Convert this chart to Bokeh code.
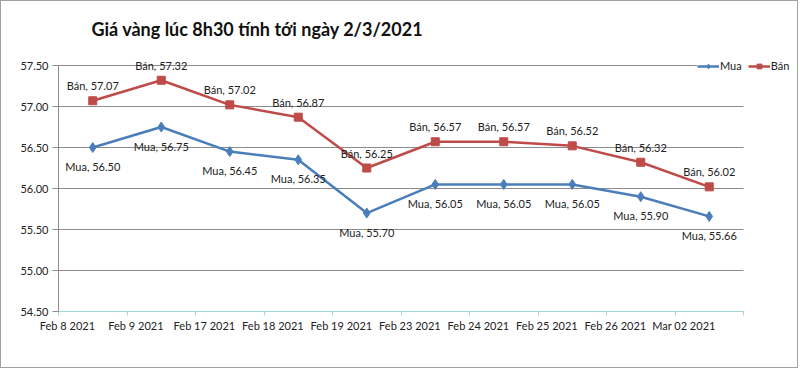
from bokeh.plotting import figure
from bokeh.models import (ColumnDataSource, LabelSet, Label, Legend, LegendItem,
                          FixedTicker, NumeralTickFormatter, Range1d)
from bokeh.core.properties import value
from bokeh.embed import file_html
from bokeh.resources import INLINE

categories = ["Feb 8 2021", "Feb 9 2021", "Feb 17 2021", "Feb 18 2021", "Feb 19 2021",
              "Feb 23 2021", "Feb 24 2021", "Feb 25 2021", "Feb 26 2021", "Mar 02 2021"]
mua = [56.50, 56.75, 56.45, 56.35, 55.70, 56.05, 56.05, 56.05, 55.90, 55.66]
ban = [57.07, 57.32, 57.02, 56.87, 56.25, 56.57, 56.57, 56.52, 56.32, 56.02]
y_ticks = [54.5, 55.0, 55.5, 56.0, 56.5, 57.0, 57.5]
title_text = "Giá vàng lúc 8h30 tính tới ngày 2/3/2021"

BLUE = "#4A7EBB"
RED = "#BE4B48"
FONT = "Lato"

W, H = 798, 368                    # + 1px border on each side = 800 x 370
LEFT, BOTTOM = 57, 58
PLOT_W, PLOT_H = 685, 246          # plotting area for the real axes
FRAME_W, FRAME_H = W - LEFT, H - BOTTOM
n = len(categories)
x_end = n * FRAME_W / PLOT_W
y_end = y_ticks[0] + (y_ticks[-1] - y_ticks[0]) * FRAME_H / PLOT_H
label_shift = 0.13                 # category labels sit a little right of the tick marks

xs = [i + 0.5 for i in range(n)]
src = ColumnDataSource(dict(
    x=xs, mua=mua, ban=ban,
    mua_lbl=[f"Mua, {v:.2f}" for v in mua],
    ban_lbl=[f"Bán, {v:.2f}" for v in ban],
))

p = figure(width=W, height=H, output_backend="svg", toolbar_location=None,
           x_range=Range1d(0, x_end), y_range=Range1d(y_ticks[0], y_end),
           min_border_left=LEFT, min_border_right=0, min_border_top=0, min_border_bottom=BOTTOM)
p.styles = {"border": "1px solid #a0a0a0"}
p.outline_line_color = None
p.background_fill_color = "white"
p.border_fill_color = "white"

# grid: horizontal lines only across the category span
p.xgrid.grid_line_color = None
p.ygrid.grid_line_color = None
p.segment(x0=[0] * len(y_ticks), x1=[n] * len(y_ticks), y0=y_ticks, y1=y_ticks,
          line_color="#8c8c8c", line_width=1)

# y axis
p.yaxis.ticker = FixedTicker(ticks=y_ticks)
p.yaxis.bounds = (y_ticks[0], y_ticks[-1])
p.yaxis.formatter = NumeralTickFormatter(format="0.00")
p.yaxis.axis_line_color = "#8c8c8c"
p.yaxis.major_tick_line_color = "#8c8c8c"
p.yaxis.major_tick_out = 6
p.yaxis.major_tick_in = 0
p.yaxis.minor_tick_line_color = None
p.yaxis.major_label_text_font = FONT
p.yaxis.major_label_text_font_size = "11px"
p.yaxis.major_label_text_color = "#222222"
p.yaxis.major_label_standoff = 4

# x axis: labels on (invisible) major ticks, boundary tick marks as minor ticks
lab_ticks = [i + label_shift for i in range(n)]
p.xaxis.ticker = FixedTicker(ticks=lab_ticks, minor_ticks=list(range(n + 1)))
p.xaxis.bounds = (0, n)
p.xaxis.major_label_overrides = {t: c for t, c in zip(lab_ticks, categories)}
p.xaxis.axis_line_color = "#9fd8d8"
p.xaxis.major_tick_line_color = None
p.xaxis.major_tick_out = 4
p.xaxis.major_tick_in = 0
p.xaxis.minor_tick_line_color = "#9fd8d8"
p.xaxis.minor_tick_out = 4
p.xaxis.minor_tick_in = 0
p.xaxis.major_label_text_font = FONT
p.xaxis.major_label_text_font_size = "11px"
p.xaxis.major_label_text_color = "#222222"
p.xaxis.major_label_standoff = 3

# series
l_mua = p.line("x", "mua", source=src, line_color=BLUE, line_width=2.5)
s_mua = p.scatter("x", "mua", source=src, marker="diamond", size=10,
                  fill_color=BLUE, line_color=BLUE)
l_ban = p.line("x", "ban", source=src, line_color=RED, line_width=2.5)
s_ban = p.scatter("x", "ban", source=src, marker="square", size=8,
                  fill_color=RED, line_color=RED)

# data labels
p.add_layout(LabelSet(x="x", y="ban", text="ban_lbl", source=src, y_offset=15,
                      text_align="center", text_baseline="middle",
                      text_font=value(FONT), text_font_size="11px", text_color="#222222"))
p.add_layout(LabelSet(x="x", y="mua", text="mua_lbl", source=src, y_offset=-19,
                      text_align="center", text_baseline="middle",
                      text_font=value(FONT), text_font_size="11px", text_color="#222222"))

# title
p.add_layout(Label(x=33, y=283, x_units="screen", y_units="screen", text=title_text,
                   text_align="left", text_baseline="middle", text_font=FONT,
                   text_font_style="bold", text_font_size="18px", text_color="#111111"))

# legend
legend = Legend(items=[LegendItem(label="Mua", renderers=[l_mua, s_mua]),
                       LegendItem(label="Bán", renderers=[l_ban, s_ban])],
                location=(639, 239), orientation="horizontal",
                label_text_font=FONT, label_text_font_size="11px", label_text_color="#222222",
                glyph_width=22, glyph_height=12, padding=1, spacing=6, label_standoff=1,
                margin=0, border_line_color=None, background_fill_color="white",
                background_fill_alpha=1.0)
p.add_layout(legend)

open("out.html", "w").write(file_html(p, INLINE))
